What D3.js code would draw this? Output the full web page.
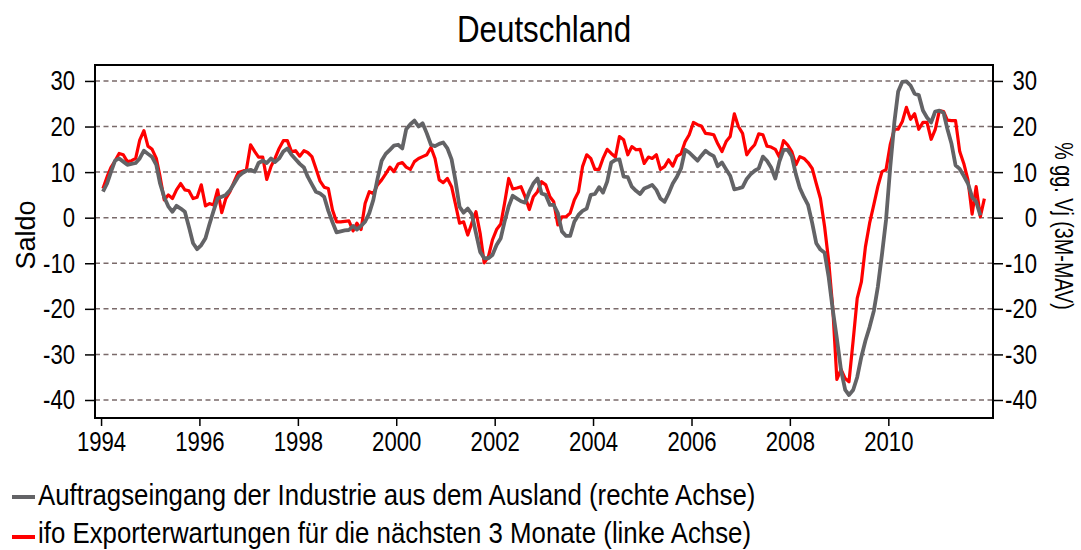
<!DOCTYPE html>
<html>
<head>
<meta charset="utf-8">
<script src="https://cdn.jsdelivr.net/npm/d3@7"></script>
<style>
  body { margin: 0; background: #fff; }
  svg text { font-family: 'Liberation Sans', Arial, sans-serif; fill: #000; }
</style>
</head>
<body>
<div id="chart"></div>
<script>
// monthly values, starting January 1994
var startYear = 1994;

// ifo Exporterwartungen (Saldo, left axis)
var ifoExport = [
  6.4, 9, 11, 12.5, 14.1, 13.8, 12.3, 12.5, 13, 17, 19.1, 15.7,
  15, 13, 9, 3.9, 5, 4.2, 6.1, 7.5, 6.1, 5.9, 4.2, 4.5,
  7.2, 2.6, 3.1, 2.8, 6.1, 1.1, 4.2, 5.7, 7.9, 9.9, 10.2, 10.5,
  16, 14.5, 13.3, 13.3, 8.4, 11.2, 13, 15.2, 16.9, 16.9, 14.5, 14.7,
  13.5, 14.7, 14.3, 13.4, 10.8, 8, 6.7, 6.4, 1.7, -0.9, -0.9, -0.8,
  -0.7, -2.9, -1.2, -2.6, 3.1, 5.7, 5.3, 7.2, 8.3, 9.6, 11.1, 10.1,
  11.8, 12.1, 11.1, 10.6, 12.3, 13, 13.4, 13.8, 15.4, 13, 8.3, 7.7,
  8.6, 6.8, 3.1, -1.2, -0.9, -3.8, -1.2, 1.3, -3.4, -9.9, -8.6, -4.9,
  -2.6, -1.4, 3.1, 8.6, 6.3, 6.5, 6.8, 4.6, 1.8, 4.6, 5.7, 7.9,
  7.2, 4.6, 3.5, -1.6, 0.2, 0.2, 1, 3.9, 5.7, 11.2, 13.8, 13,
  10.6, 10.6, 13, 15, 14.1, 13.3, 17.8, 17.1, 13.8, 15.6, 14.9, 15,
  11.9, 13.3, 13, 13.8, 10.6, 11.2, 12.7, 11.3, 13.5, 14, 16.7, 18.2,
  20.9, 20.4, 20.1, 18.5, 18.4, 18.2, 16.2, 14.5, 16.7, 17.8, 22.8, 20,
  18.5, 13.8, 15, 16, 18.4, 18.2, 15.7, 15.5, 15, 13.3, 16.9, 16,
  14.5, 11.6, 13.4, 13, 12.1, 10.8, 7.5, 4.2, -2, -9.5, -20, -35.5,
  -33.3, -35.3, -36, -26.9, -17.7, -14.1, -6.4, -1.2, 2.8, 6.8, 10.1, 10.5,
  16, 19.4, 19.4, 21.1, 24.2, 21.6, 22.8, 19.4, 20.9, 20.9, 17.2, 19.3,
  23.5, 23.3, 21.4, 21.3, 21.3, 14.5, 11.9, 8.3, 0.8, 6.8, 0.2, 4.2
];

// Auftragseingang aus dem Ausland (% gg. Vj, 3M-MAV, right axis)
var auftragAusland = [
  5.7, 7.5, 10, 12.5, 13, 12.3, 11.6, 11.8, 12, 13, 14.7, 14,
  13.3, 11.6, 7.5, 4.5, 2.5, 1.3, 2.6, 2, 1.3, -2, -5.6, -6.9,
  -6, -4.5, -1.5, 1.5, 4.2, 4.6, 5, 6, 7.5, 9, 9.8, 10.3,
  10.5, 10.1, 12, 12.5, 12, 13, 12.2, 13, 14.5, 15.2, 13.8, 12.8,
  11.8, 11, 9, 7.3, 5.7, 5.3, 4.6, 1.5, -1, -3.2, -3, -2.8,
  -2.7, -1.8, -2.6, -1.8, -0.9, 1, 3.9, 8.5, 12.5, 14, 14.9, 15.8,
  16, 15.2, 19.4, 20.5, 21.3, 20, 20.7, 18.5, 16, 15.7, 16.2, 16.5,
  15.2, 12.8, 8.3, 2.4, 1.1, 2, 0.8, -3.4, -7.5, -8.9, -8.9, -8.2,
  -6, -4.5, -0.9, 2.5, 4.8, 4.2, 3.6, 3.3, 5.7, 7.5, 8.6, 5.3,
  5, 2.8, 2.8, 1, -3, -4, -4, -0.9, 0.6, 1.5, 2, 5,
  5.2, 6.7, 5.5, 7.9, 12.1, 12.7, 12.8, 9, 8.9, 6.8, 5.9, 5.2,
  6.4, 6.8, 7.2, 6.1, 4.2, 3.5, 5.3, 7.5, 9, 10.8, 14.9, 14.3,
  13.4, 12.5, 13.6, 14.7, 14, 13.5, 11.3, 12.1, 10.6, 9.2, 6.2, 6.4,
  6.7, 8.5, 9.5, 10.3, 10.8, 13.4, 12.5, 11, 8.6, 12.3, 14.9, 14.9,
  13.5, 9.5, 6.5, 4.5, 2.8, -1.2, -5.6, -7, -7.7, -13, -20.3, -26.5,
  -33.5, -37.8, -38.9, -37.8, -35, -30.5, -27, -24, -20.5, -15.2, -8, -0.5,
  11, 21, 27.7, 29.8, 29.9, 29, 27.2, 26.9, 23.5, 22, 20.9, 23.3,
  23.5, 23, 19.5, 16.2, 11.5, 10.7, 9.2, 7.5, 4.5, 3.5, 0.5
];

var yTicks = [-40, -30, -20, -10, 0, 10, 20, 30];
var xTickYears = [1994, 1996, 1998, 2000, 2002, 2004, 2006, 2008, 2010];

var seriesNames = [
  "Auftragseingang der Industrie aus dem Ausland (rechte Achse)",
  "ifo Exporterwartungen für die nächsten 3 Monate (linke Achse)"
];
var titleText = "Deutschland";

// dimensions
var width = 1081, height = 550;
var margin = { top: 65, right: 88, bottom: 132, left: 95 };
var plotW = width - margin.left - margin.right;
var plotH = height - margin.top - margin.bottom;

var svg = d3.select("#chart")
  .append("svg")
  .attr("width", width)
  .attr("height", height);

// the original uses a narrow face: squeeze the glyphs along the text direction
function narrow(sel, factor) {
  sel.each(function () {
    var w = this.getComputedTextLength();
    d3.select(this)
      .attr("textLength", w * factor)
      .attr("lengthAdjust", "spacingAndGlyphs");
  });
}

// x: time scale, data points at mid-month
var x = d3.scaleTime()
  .domain([new Date(1993, 10, 17), new Date(2012, 1, 17)])
  .range([margin.left, margin.left + plotW]);

// both axes share the same range
var yLeft = d3.scaleLinear()
  .domain([-43.95, 33.5])
  .range([margin.top + plotH, margin.top]);
var yRight = yLeft.copy();

function toPoints(arr) {
  return arr.map(function (v, i) {
    return { date: new Date(startYear, i, 15), value: v };
  });
}

// title
svg.append("text")
  .attr("x", margin.left + plotW / 2)
  .attr("y", 42)
  .attr("text-anchor", "middle")
  .style("font-size", "36px")
  .text(titleText)
  .call(narrow, 0.87);

// grid lines
svg.append("g")
  .selectAll("line")
  .data(yTicks)
  .enter().append("line")
  .attr("x1", margin.left)
  .attr("x2", margin.left + plotW)
  .attr("y1", function (d) { return yLeft(d); })
  .attr("y2", function (d) { return yLeft(d); })
  .attr("stroke", "#7a6a6a")
  .attr("stroke-width", 1.5)
  .attr("stroke-dasharray", "5,3.5");

// lines
var line = function (scale) {
  return d3.line()
    .x(function (d) { return x(d.date); })
    .y(function (d) { return scale(d.value); });
};

svg.append("path")
  .datum(toPoints(ifoExport))
  .attr("fill", "none")
  .attr("stroke", "#ff0000")
  .attr("stroke-width", 3.2)
  .attr("stroke-linejoin", "round")
  .attr("d", line(yLeft));

svg.append("path")
  .datum(toPoints(auftragAusland))
  .attr("fill", "none")
  .attr("stroke", "#636366")
  .attr("stroke-width", 3.8)
  .attr("stroke-linejoin", "round")
  .attr("d", line(yRight));

// frame
svg.append("rect")
  .attr("x", margin.left)
  .attr("y", margin.top)
  .attr("width", plotW)
  .attr("height", plotH)
  .attr("fill", "none")
  .attr("stroke", "#000")
  .attr("stroke-width", 2);

// axes
var fontSize = "28px";
var plainNum = function (d) { return String(d); };

var gLeft = svg.append("g")
  .attr("transform", "translate(" + margin.left + ",0)")
  .call(d3.axisLeft(yLeft).tickValues(yTicks).tickFormat(plainNum).tickSize(10).tickPadding(10));
var gRight = svg.append("g")
  .attr("transform", "translate(" + (margin.left + plotW) + ",0)")
  .call(d3.axisRight(yRight).tickValues(yTicks).tickFormat(plainNum).tickSize(10).tickPadding(14));
var gBottom = svg.append("g")
  .attr("transform", "translate(0," + (margin.top + plotH) + ")")
  .call(d3.axisBottom(x)
    .tickValues(xTickYears.map(function (y) { return new Date(y, 0, 1); }))
    .tickFormat(d3.timeFormat("%Y"))
    .tickSize(8).tickPadding(5));

[gLeft, gRight, gBottom].forEach(function (g) {
  g.select(".domain").remove();
  g.selectAll(".tick line").attr("stroke", "#000").attr("stroke-width", 1.5);
  g.selectAll(".tick text").style("font-size", fontSize).attr("fill", "#000");
});
gRight.selectAll(".tick text").attr("text-anchor", "end").attr("x", 44);
[gLeft, gRight, gBottom].forEach(function (g) {
  g.selectAll(".tick text").call(narrow, 0.79);
});

// axis titles
svg.append("text")
  .attr("transform", "translate(35,235) rotate(-90)")
  .attr("text-anchor", "middle")
  .style("font-size", "27px")
  .text("Saldo");

svg.append("text")
  .attr("transform", "translate(1055,226) rotate(90)")
  .attr("text-anchor", "middle")
  .style("font-size", "26px")
  .text("% gg. Vj (3M-MAV)")
  .call(narrow, 0.76);

// legend
var legendColors = ["#636366", "#ff0000"];
var legend = svg.append("g");
seriesNames.forEach(function (name, i) {
  var yy = 497 + i * 40;
  legend.append("line")
    .attr("x1", 12).attr("x2", 35)
    .attr("y1", yy).attr("y2", yy)
    .attr("stroke", legendColors[i])
    .attr("stroke-width", 4);
  legend.append("text")
    .attr("x", 38)
    .attr("y", 505 + i * 38)
    .style("font-size", "29px")
    .text(name)
    .call(narrow, 0.89);
});
</script>
</body>
</html>
